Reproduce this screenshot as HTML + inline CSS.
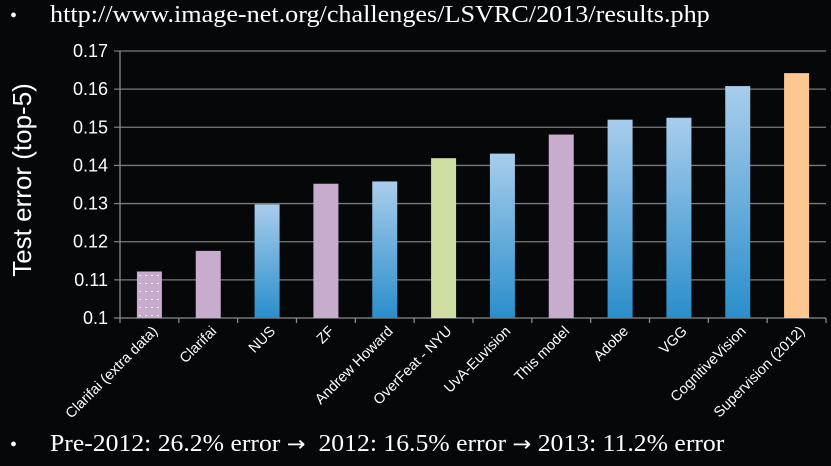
<!DOCTYPE html>
<html><head><meta charset="utf-8"><style>
html,body{margin:0;padding:0;background:#050709;width:831px;height:466px;overflow:hidden}
.b{position:absolute;font-family:"Liberation Serif",serif;color:#fff;font-size:24px;white-space:nowrap;transform-origin:0 0}
.d{position:absolute;left:0;top:0;font-size:20px}
</style></head><body>
<svg id="c" width="831" height="466" style="position:absolute;left:0;top:0">
<defs>
<linearGradient id="gb" x1="0" y1="0" x2="0" y2="1"><stop offset="0" stop-color="#a9cdec"/><stop offset="1" stop-color="#2a8ecb"/></linearGradient>
<pattern id="dots" width="6" height="8" patternUnits="userSpaceOnUse"><rect width="6" height="8" fill="#c8accd"/><rect x="1" y="3" width="2" height="1" fill="#f2e8f4"/></pattern>
</defs>
</svg>
<div class="b" style="left:10px;top:2px"><span style="font-size:20px">•</span><span style="position:absolute;left:40px;top:0;transform:scaleX(1.09);transform-origin:0 0">http://www.image-net.org/challenges/LSVRC/2013/results.php</span></div>
<div class="b" style="left:10px;top:431px"><span style="font-size:20px">•</span><span style="position:absolute;left:40px;top:0;transform:scaleX(1.07);transform-origin:0 0">Pre-2012: 26.2% error <span style="font-family:'DejaVu Sans';font-size:21px">→</span>&nbsp; 2012: 16.5% error <span style="font-family:'DejaVu Sans';font-size:21px">→</span> 2013: 11.2% error</span></div>
<script>
const categories=["Clarifai (extra data)","Clarifai","NUS","ZF","Andrew Howard","OverFeat - NYU","UvA-Euvision","This model","Adobe","VGG","CognitiveVision","Supervision (2012)"];
const values=[0.1122,0.1176,0.1298,0.1352,0.1358,0.1419,0.1431,0.1481,0.1520,0.1525,0.1608,0.1642];
const kinds=["dots","purple","blue","purple","blue","green","blue","purple","blue","blue","blue","orange"];
const ticks=[0.1,0.11,0.12,0.13,0.14,0.15,0.16,0.17];
const svg=document.getElementById('c');const NS="http://www.w3.org/2000/svg";
const x0=120,x1=826,yTop=51,yBot=318,vMin=0.1,vMax=0.17;
const bw=(x1-x0)/categories.length;
const y=v=>yBot-(v-vMin)/(vMax-vMin)*(yBot-yTop);
const xc=i=>x0+bw*(i+0.5);
function mk(t,a){const e=document.createElementNS(NS,t);for(const k in a)e.setAttribute(k,a[k]);svg.appendChild(e);return e;}
ticks.forEach(t=>{
 const l=mk('line',{x1:x0-6,x2:x1,y1:y(t),y2:y(t),stroke:t===vMin?'#8a8a8a':'#7a7a7a','stroke-width':1.3});
 
 
 const tx=mk('text',{x:x0-12,y:y(t)+6,'text-anchor':'end',fill:'#fff','font-size':18,'font-family':'Liberation Sans, sans-serif'});
 tx.textContent=String(t);
 
 
});
const ax=mk('line',{x1:x0,x2:x0,y1:yTop,y2:yBot,stroke:'#8a8a8a','stroke-width':1.3});


for(let i=0;i<=categories.length;i++){
 const tk=mk('line',{x1:x0+bw*i,x2:x0+bw*i,y1:yBot,y2:yBot+5,stroke:'#8a8a8a','stroke-width':1.3});
 
 
}
const fills={dots:'url(#dots)',purple:'#c8accd',blue:'url(#gb)',green:'#cedea3',orange:'#fec690'};
categories.forEach((c,i)=>{
 const r=mk('rect',{x:xc(i)-12.5,y:y(values[i]),width:25,height:yBot-y(values[i]),fill:fills[kinds[i]]});
 
 
 const t=mk('text',{x:0,y:0,'text-anchor':'end',fill:'#fff','font-size':14.5,'font-family':'Liberation Sans, sans-serif',transform:`translate(${xc(i)+9},${yBot+14}) rotate(-45)`});
 t.textContent=c;
 
 
});
const yt=mk('text',{x:0,y:0,'text-anchor':'middle',fill:'#fff','font-size':26,'font-family':'Liberation Sans, sans-serif',transform:'translate(31,180) rotate(-90)'});
yt.textContent='Test error (top-5)';


</script>
</body></html>
